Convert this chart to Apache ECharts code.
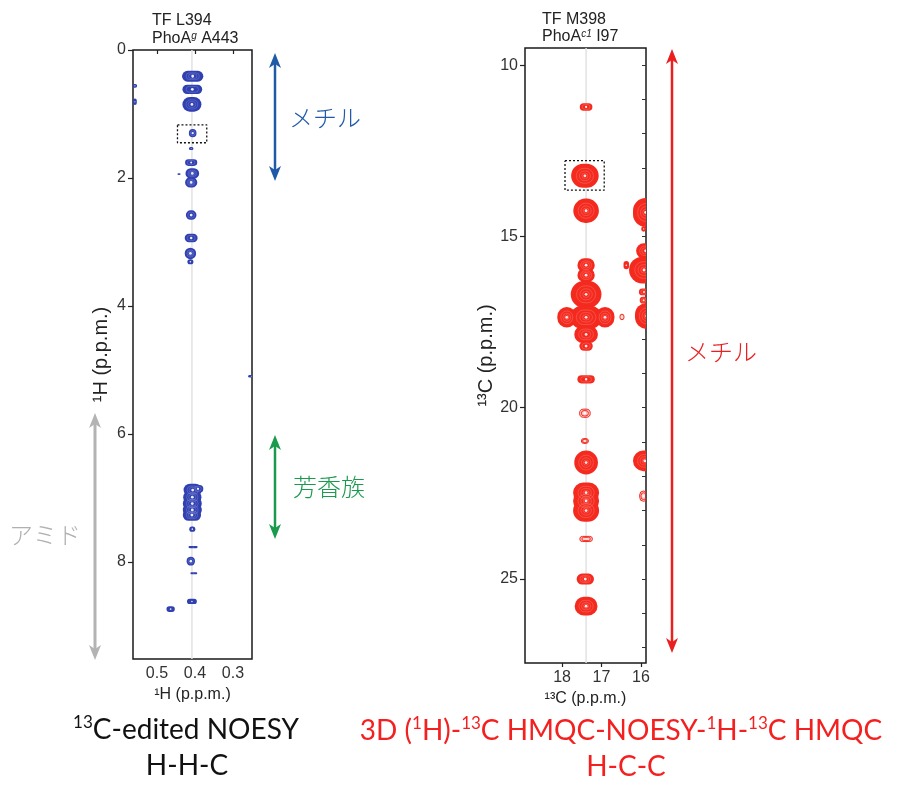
<!DOCTYPE html>
<html>
<head>
<meta charset="utf-8">
<script src="https://cdn.jsdelivr.net/npm/echarts@6/dist/echarts.min.js"></script>
<style>
  html, body { margin: 0; background: #fff; }
  #chart { width: 900px; height: 790px; }
</style>
</head>
<body>
<div id="chart"></div>
<script>
// peaks: [x ppm, y ppm, half width x, half width y, level (1 = weak contour)]
const hhcPeaks = [
  [0.406, 0.41, 0.028, 0.085, 3],
  [0.407, 0.615, 0.026, 0.073, 3],
  [0.408, 0.85, 0.025, 0.115, 3],
  [0.406, 1.30, 0.010, 0.065, 3],
  [0.410, 1.54, 0.006, 0.025, 3],
  [0.410, 1.76, 0.016, 0.052, 3],
  [0.407, 1.93, 0.018, 0.08, 3],
  [0.410, 2.07, 0.016, 0.08, 3],
  [0.442, 1.94, 0.004, 0.015, 3],
  [0.410, 2.58, 0.014, 0.075, 3],
  [0.410, 2.94, 0.017, 0.066, 3],
  [0.412, 3.18, 0.015, 0.09, 3],
  [0.412, 3.31, 0.008, 0.04, 3],
  [0.558, 0.56, 0.006, 0.03, 3],
  [0.558, 0.81, 0.005, 0.05, 3],
  [0.252, 5.10, 0.008, 0.02, 3],
  [0.406, 6.88, 0.024, 0.10, 3],
  [0.392, 6.86, 0.014, 0.06, 3],
  [0.407, 6.99, 0.024, 0.10, 3],
  [0.407, 7.09, 0.025, 0.10, 3],
  [0.407, 7.19, 0.025, 0.10, 3],
  [0.408, 7.27, 0.024, 0.09, 3],
  [0.407, 7.49, 0.008, 0.04, 3],
  [0.405, 7.77, 0.012, 0.018, 3],
  [0.411, 7.99, 0.011, 0.07, 3],
  [0.403, 8.18, 0.009, 0.015, 3],
  [0.408, 8.62, 0.013, 0.04, 3],
  [0.464, 8.74, 0.011, 0.045, 3]
];

const hccPeaks = [
  [17.39, 11.22, 0.16, 0.11, 3],
  [17.42, 13.23, 0.35, 0.35, 3],
  [17.39, 14.25, 0.325, 0.355, 3],
  [15.88, 14.30, 0.32, 0.42, 3],
  [15.93, 14.78, 0.06, 0.08, 3],
  [15.88, 15.42, 0.24, 0.22, 3],
  [15.92, 15.98, 0.38, 0.39, 3],
  [16.37, 15.84, 0.07, 0.12, 3],
  [15.92, 16.62, 0.13, 0.10, 3],
  [15.93, 16.86, 0.10, 0.10, 3],
  [15.85, 17.32, 0.30, 0.38, 3],
  [16.48, 17.35, 0.05, 0.08, 1],
  [17.39, 15.84, 0.22, 0.2, 3],
  [17.39, 16.13, 0.22, 0.2, 3],
  [17.39, 16.69, 0.39, 0.4, 3],
  [17.39, 17.36, 0.40, 0.34, 3],
  [17.88, 17.36, 0.24, 0.30, 3],
  [16.91, 17.36, 0.24, 0.30, 3],
  [17.39, 17.86, 0.30, 0.25, 3],
  [17.39, 18.20, 0.17, 0.14, 3],
  [17.39, 19.17, 0.22, 0.12, 3],
  [17.42, 20.16, 0.135, 0.12, 1],
  [17.42, 20.97, 0.09, 0.07, 1],
  [17.39, 21.60, 0.30, 0.35, 3],
  [15.90, 21.55, 0.30, 0.30, 3],
  [17.39, 22.48, 0.33, 0.30, 3],
  [17.39, 22.72, 0.33, 0.30, 3],
  [17.39, 23.00, 0.33, 0.33, 3],
  [17.39, 23.83, 0.16, 0.075, 1],
  [15.93, 22.58, 0.10, 0.15, 1],
  [17.41, 25.00, 0.22, 0.16, 3],
  [17.39, 25.79, 0.29, 0.27, 3]
];

const hhcBox = [[0.446, 1.17], [0.369, 1.45]];
const hccBox = [[17.925, 12.79], [16.93, 13.65]];
const hhcDiagonal = 0.408;
const hccDiagonal = 17.39;

const hhcXRange = [0.25, 0.563];
const hhcYRange = [0, 9.52];
const hccXRange = [15.87, 18.94];
const hccYRange = [9.5, 27.45];

const hhcXTicks = [0.3, 0.4, 0.5];
const hhcYTicks = [0, 2, 4, 6, 8];
const hccXTicks = [16, 17, 18];
const hccYTicks = [10, 15, 20, 25];
const hccMinorTicks = [10, 11, 12, 13, 14, 15, 16, 17, 18, 19, 20, 21, 22, 23, 24, 25, 26, 27];

const SANS = "'Liberation Sans', Arial, sans-serif";
const JP = "'Noto Sans CJK JP', sans-serif";
const TITLE = "Lato, 'Open Sans', sans-serif";

function boxPath(b) {
  return [[b[0][0], b[0][1]], [b[1][0], b[0][1]], [b[1][0], b[1][1]], [b[0][0], b[1][1]], [b[0][0], b[0][1]]];
}

function roundBox(c, w, h, k) {
  const ww = Math.max(w * k, 1), hh = Math.max(h * k, 1);
  return { x: c[0] - ww / 2, y: c[1] - hh / 2, width: ww, height: hh, r: Math.min(ww, hh) / 2 };
}

function peakBox(api) {
  const a = api.coord([api.value(0) - api.value(2), api.value(1) - api.value(3)]);
  const b = api.coord([api.value(0) + api.value(2), api.value(1) + api.value(3)]);
  return {
    c: api.coord([api.value(0), api.value(1)]),
    w: Math.abs(b[0] - a[0]),
    h: Math.abs(b[1] - a[1]),
    lev: api.value(4)
  };
}

function fillLayer(color, faint) {
  return (params, api) => {
    const p = peakBox(api);
    return { type: 'rect', shape: roundBox(p.c, p.w, p.h, 1), style: { fill: p.lev > 1 ? color : faint } };
  };
}

// faint inner contour lines and a white apex, drawn over all fills
function contourLayer(color, tint) {
  return (params, api) => {
    const p = peakBox(api);
    const strong = p.lev > 1;
    const rings = strong
      ? [0.62, 0.4, 0.22].filter(k => Math.min(p.w, p.h) * k > 4)
      : [1, 0.66, 0.36].filter(k => k === 1 || Math.min(p.w, p.h) * k > 3);
    const children = rings.map(k => ({
      type: 'rect',
      shape: roundBox(p.c, p.w, p.h, k),
      style: { fill: 'none', stroke: strong ? tint : color, lineWidth: strong ? 0.5 : 1, opacity: strong ? 0.45 : 1 }
    }));
    const r = Math.min(1.4, Math.min(p.w, p.h) * 0.15);
    children.push({ type: 'circle', shape: { cx: p.c[0], cy: p.c[1], r: r }, style: { fill: '#fff', opacity: 0.9 } });
    return { type: 'group', children: children };
  };
}

function arrow(x, y1, y2, color, lw) {
  return {
    type: 'group',
    children: [
      { type: 'line', shape: { x1: x, y1: y1 + 8, x2: x, y2: y2 - 8 }, style: { stroke: color, lineWidth: lw } },
      { type: 'polygon', shape: { points: [[x, y1], [x + 6, y1 + 15], [x, y1 + 11], [x - 6, y1 + 15]] }, style: { fill: color } },
      { type: 'polygon', shape: { points: [[x, y2], [x + 6, y2 - 15], [x, y2 - 11], [x - 6, y2 - 15]] }, style: { fill: color } }
    ]
  };
}

function label(text, x, y, color, opts) {
  return {
    type: 'text',
    style: Object.assign({ text: text, x: x, y: y, fill: color, align: 'left', verticalAlign: 'middle' }, opts)
  };
}

function xAxisOf(grid, range, ticks, name, digits) {
  return {
    gridIndex: grid, type: 'value', min: range[0], max: range[1], inverse: true, position: 'bottom',
    splitLine: { show: false }, axisLine: { show: false },
    axisTick: { show: true, length: 4, customValues: ticks, lineStyle: { color: '#222', width: 1.2 } },
    axisLabel: { customValues: ticks, formatter: v => v.toFixed(digits), fontSize: 16, color: '#333', margin: 7, fontFamily: SANS },
    name: name, nameLocation: 'middle', nameGap: 26,
    nameTextStyle: { fontSize: 16, color: '#222', fontFamily: SANS }
  };
}

function yAxisOf(grid, range, ticks, name, gap) {
  return {
    gridIndex: grid, type: 'value', min: range[0], max: range[1], inverse: true, position: 'left',
    splitLine: { show: false }, axisLine: { show: false },
    axisTick: { show: true, length: 5, customValues: ticks, lineStyle: { color: '#222', width: 1.2 } },
    axisLabel: { customValues: ticks, fontSize: 16, color: '#333', margin: 7, fontFamily: SANS },
    name: name, nameLocation: 'middle', nameGap: gap,
    nameTextStyle: { fontSize: 20, color: '#222', fontFamily: SANS }
  };
}

function panelSeries(idx, peaks, box, diag, yRange, color, tint, faint) {
  return [
    {
      type: 'line', xAxisIndex: idx, yAxisIndex: idx, data: [[diag, yRange[0]], [diag, yRange[1]]],
      symbol: 'none', silent: true, z: 1, lineStyle: { color: '#e2e2e2', width: 1.5 }
    },
    {
      type: 'custom', xAxisIndex: idx, yAxisIndex: idx, data: peaks, encode: { x: 0, y: 1 },
      clip: true, z: 2, silent: true, renderItem: fillLayer(color, faint)
    },
    {
      type: 'custom', xAxisIndex: idx, yAxisIndex: idx, data: peaks, encode: { x: 0, y: 1 },
      clip: true, z: 3, silent: true, renderItem: contourLayer(color, tint)
    },
    {
      type: 'line', xAxisIndex: idx, yAxisIndex: idx, data: boxPath(box),
      symbol: 'none', silent: true, z: 4, lineStyle: { color: '#111', width: 1.3, type: [2, 2] }
    }
  ];
}

const chart = echarts.init(document.getElementById('chart'));

chart.setOption({
  animation: false,
  backgroundColor: '#fff',
  grid: [
    { left: 133, top: 50, width: 119, height: 609, show: true, borderColor: '#1a1a1a', borderWidth: 1.5, outerBoundsMode: 'none' },
    { left: 525, top: 48, width: 121, height: 615, show: true, borderColor: '#1a1a1a', borderWidth: 1.5, outerBoundsMode: 'none' }
  ],
  xAxis: [
    xAxisOf(0, hhcXRange, hhcXTicks, '¹H (p.p.m.)', 1),
    xAxisOf(1, hccXRange, hccXTicks, '¹³C (p.p.m.)', 0)
  ],
  yAxis: [
    yAxisOf(0, hhcYRange, hhcYTicks, '¹H (p.p.m.)', 22),
    yAxisOf(1, hccYRange, hccYTicks, '¹³C (p.p.m.)', 27),
    {
      gridIndex: 1, type: 'value', min: hccYRange[0], max: hccYRange[1], inverse: true, position: 'right',
      splitLine: { show: false }, axisLine: { show: false }, axisLabel: { show: false },
      axisTick: { show: true, inside: true, length: 4, customValues: hccMinorTicks, lineStyle: { color: '#333' } }
    }
  ],
  series: [
    ...panelSeries(0, hhcPeaks, hhcBox, hhcDiagonal, hhcYRange, '#3040b0', '#c8cdf2', 'rgba(48,64,176,0.25)'),
    ...panelSeries(1, hccPeaks, hccBox, hccDiagonal, hccYRange, '#f42a1f', '#ffd0cb', 'rgba(244,42,31,0.22)')
  ],
  graphic: [
    // panel headers
    label('TF L394', 152, 21, '#222', { fontSize: 16, fontFamily: SANS }),
    label('PhoA{s|g} A443', 152, 39, '#222', {
      fontSize: 16, fontFamily: SANS,
      rich: { s: { fontSize: 10, fontStyle: 'italic', verticalAlign: 'top', fontFamily: SANS, fill: '#222' } }
    }),
    label('TF M398', 542, 20, '#222', { fontSize: 16, fontFamily: SANS }),
    label('PhoA{s|c1} I97', 542, 37, '#222', {
      fontSize: 16, fontFamily: SANS,
      rich: { s: { fontSize: 10, fontStyle: 'italic', verticalAlign: 'top', fontFamily: SANS, fill: '#222' } }
    }),

    // region arrows
    arrow(275, 53, 181, '#1f5aa6', 2.5),
    label('メチル', 289, 118, '#1f5aa6', { fontSize: 24, fontFamily: JP, fontWeight: 300 }),
    arrow(275, 435, 539, '#1a9a4c', 2.5),
    label('芳香族', 293, 487, '#1a9a4c', { fontSize: 24, fontFamily: JP, fontWeight: 300 }),
    arrow(95, 413, 660, '#b3b3b3', 3),
    label('アミド', 9, 535, '#b0b0b0', { fontSize: 24, fontFamily: JP, fontWeight: 300 }),
    arrow(672, 49, 653, '#ea2020', 2.5),
    label('メチル', 685, 352, '#ea2020', { fontSize: 24, fontFamily: JP, fontWeight: 300 }),

    // experiment titles
    label('{s|13}{t|C-edited NOESY}', 186, 730, '#111', {
      align: 'center',
      rich: {
        s: { fontSize: 17, fontFamily: TITLE, verticalAlign: 'top', lineHeight: 20, fill: '#111' },
        t: { fontSize: 28, fontFamily: TITLE, lineHeight: 32, fill: '#111' }
      }
    }),
    label('H-H-C', 187, 766, '#111', { align: 'center', fontSize: 28, fontFamily: TITLE }),
    label('{t|3D (}{s|1}{t|H)-}{s|13}{t|C HMQC-NOESY-}{s|1}{t|H-}{s|13}{t|C HMQC}', 621, 731, '#f41f1f', {
      align: 'center',
      rich: {
        s: { fontSize: 17, fontFamily: TITLE, verticalAlign: 'top', lineHeight: 20, fill: '#f41f1f' },
        t: { fontSize: 28, fontFamily: TITLE, lineHeight: 32, fill: '#f41f1f' }
      }
    }),
    label('H-C-C', 626, 767, '#f41f1f', { align: 'center', fontSize: 28, fontFamily: TITLE })
  ]
});
</script>
</body>
</html>
